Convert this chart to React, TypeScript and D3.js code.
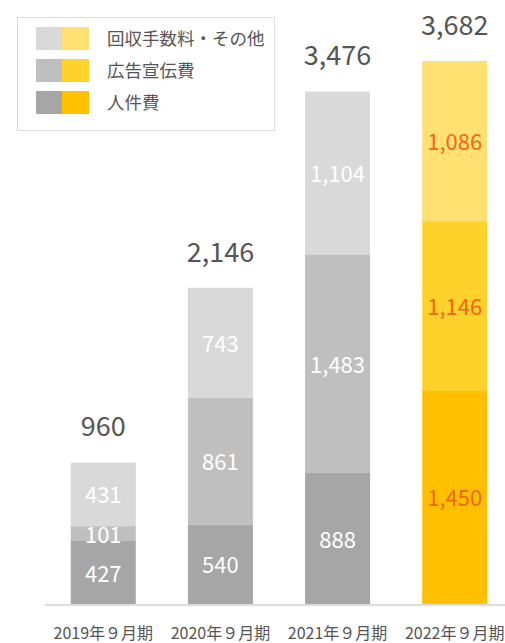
import React from 'react'
import * as d3 from 'd3'

const periods = ['2019年９月期', '2020年９月期', '2021年９月期', '2022年９月期']
const personnel = [427, 540, 888, 1450]
const advertising = [101, 861, 1483, 1146]
const other = [431, 743, 1104, 1086]
const totals = [960, 2146, 3476, 3682]

const seriesNames = ['人件費', '広告宣伝費', '回収手数料・その他']
const grayColors = ['#a6a6a6', '#bfbfbf', '#d9d9d9']
const yellowColors = ['#ffc000', '#fdd22b', '#ffe071']

const W = 505
const H = 643
const font = '"Noto Sans CJK JP", "Noto Sans", sans-serif'

const App = () => {
    const x = d3.scaleBand<string>()
        .domain(periods)
        .range([45, 513])
        .paddingInner(0.445)
        .paddingOuter(0.22)

    const y = d3.scaleLinear()
        .domain([0, 3682])
        .range([604, 61])

    const table = periods.map((p, i) => ({ period: p, s0: personnel[i], s1: advertising[i], s2: other[i] }))
    const stack = d3.stack<any>().keys(['s0', 's1', 's2'])(table)

    const legendRows = [2, 1, 0]

    return (
        <svg width={W} height={H} style={{ position: 'absolute', left: 0, top: 0 }} fontFamily={font}>
            <rect x={17.5} y={17.5} width={257} height={113} fill="#fff" stroke="#dddddd" />
            {legendRows.map((s, r) => (
                <g key={s} transform={`translate(36, ${27 + r * 32})`}>
                    <rect x={0} y={0} width={26} height={23} fill={grayColors[s]} />
                    <rect x={26} y={0} width={27} height={23} fill={yellowColors[s]} />
                    <text x={71} y={18} fontSize={17.5} fill="#555">{seriesNames[s]}</text>
                </g>
            ))}

            {stack.map((layer, s) => (
                <g key={s}>
                    {layer.map((d, i) => {
                        const x0 = x(periods[i])!
                        const last = i === periods.length - 1
                        const y0 = y(d[1])
                        const y1 = y(d[0])
                        return (
                            <g key={i}>
                                <rect x={x0} y={y0} width={x.bandwidth()} height={y1 - y0}
                                    fill={last ? yellowColors[s] : grayColors[s]} />
                                <text x={x0 + x.bandwidth() / 2} y={(y0 + y1) / 2 + 9}
                                    textAnchor="middle" fontSize={22}
                                    fill={last ? '#f26518' : '#fff'}>
                                    {d3.format(',')(d[1] - d[0])}
                                </text>
                            </g>
                        )
                    })}
                </g>
            ))}

            {totals.map((t, i) => (
                <text key={i} x={x(periods[i])! + x.bandwidth() / 2} y={y(t) - 26}
                    textAnchor="middle" fontSize={27} fill="#555">
                    {d3.format(',')(t)}
                </text>
            ))}

            <line x1={45} x2={W} y1={605} y2={605} stroke="#dddddd" strokeWidth={2} />

            {periods.map(p => (
                <text key={p} x={x(p)! + x.bandwidth() / 2} y={639}
                    textAnchor="middle" fontSize={16} fill="#555">{p}</text>
            ))}
        </svg>
    )
}

export default App
